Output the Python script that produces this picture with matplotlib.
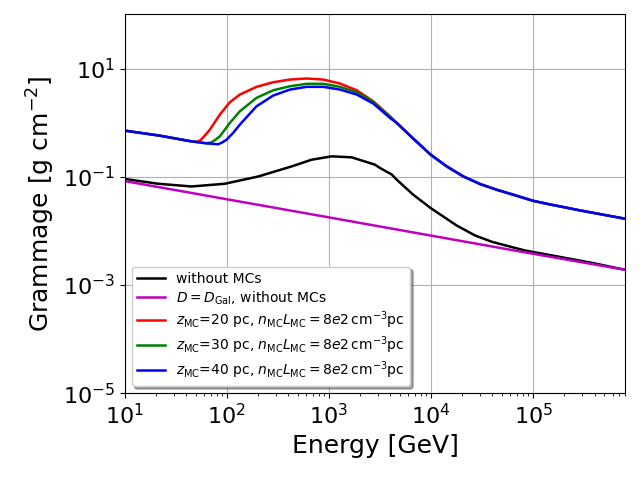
import matplotlib
matplotlib.use("Agg")
import matplotlib.pyplot as plt
from matplotlib.ticker import NullLocator

# Energy [GeV] and grammage [g cm^-2] values
E_gal = [10, 100, 1000, 1e4, 1e5, 8e5]
G_gal = [0.083, 0.0383, 0.0177, 0.00815, 0.00376, 0.00190]

E_nomc = [10, 21.2, 45.1, 95.5, 203, 431, 676, 1062, 1668, 2825, 3162, 4120,
          4613, 6700, 9930, 17870, 27000, 39630, 83500, 175900, 378800, 800000]
G_nomc = [0.091, 0.0741, 0.0660, 0.0741, 0.101, 0.155, 0.206, 0.238, 0.228,
          0.167, 0.145, 0.110, 0.088, 0.0464, 0.0263, 0.0125, 0.0082, 0.00625,
          0.00432, 0.00334, 0.00255, 0.0019]

E_base = [10, 22, 43.4]
G_base = [0.711, 0.574, 0.455]

E_tail = [4613, 6700, 9930, 14260, 20750, 30200, 44030, 64100, 99300,
          136200, 289000, 800000]
G_tail = [0.987, 0.506, 0.255, 0.155, 0.101, 0.0733, 0.0574, 0.0464, 0.0360,
          0.0316, 0.0238, 0.0167]

E_z20 = E_base + [50, 55, 61, 68.1, 85.3, 107, 134, 195, 284, 415, 604, 879,
                  1282, 1870, 2718, 3963] + E_tail
G_z20 = G_base + [0.44, 0.47, 0.58, 0.741, 1.406, 2.38, 3.30, 4.58, 5.57, 6.25,
                  6.53, 6.25, 5.27, 3.96, 2.48, 1.31] + G_tail

E_z30 = E_base + [63.2, 70.8, 77, 85.3, 107, 134, 195, 284, 415, 604, 879,
                  1282, 1870, 2718, 3963] + E_tail
G_z30 = G_base + [0.414, 0.431, 0.48, 0.557, 0.987, 1.62, 2.86, 3.96, 4.70,
                  5.21, 5.21, 4.58, 3.64, 2.41, 1.28] + G_tail

E_z40 = E_base + [63.2, 82.2, 90, 99.4, 115, 134, 195, 284, 415, 604, 879,
                  1282, 1870, 2718, 3963] + E_tail
G_z40 = G_base + [0.414, 0.397, 0.43, 0.484, 0.644, 0.918, 2.00, 3.16, 4.08,
                  4.58, 4.58, 4.08, 3.30, 2.25, 1.22] + G_tail

label_mc = r'$z_{\rm MC}$=%d pc, $n_{\rm MC} L_{\rm MC} = 8e2\,{\rm cm^{-3} pc}$'

fig = plt.figure(figsize=(6.4, 4.8), dpi=100)
ax = fig.add_axes([0.195, 0.181, 0.782, 0.789])

lw = 1.8
ax.plot(E_nomc, G_nomc, color='k', lw=lw, label='without MCs')
ax.plot(E_gal, G_gal, color='m', lw=lw, label=r'$D = D_{\rm Gal}$, without MCs')
ax.plot(E_z20, G_z20, color='r', lw=lw, label=label_mc % 20)
ax.plot(E_z30, G_z30, color='g', lw=lw, label=label_mc % 30)
ax.plot(E_z40, G_z40, color='b', lw=lw, label=label_mc % 40)

ax.set_xscale('log')
ax.set_yscale('log')
ax.set_xlim(10, 8e5)
ax.set_ylim(1e-5, 1e2)
ax.set_yticks([1e-5, 1e-3, 1e-1, 1e1])
ax.yaxis.set_minor_locator(NullLocator())
ax.grid(True, which='major', color='#b0b0b0', lw=0.8)
ax.tick_params(axis='both', which='major', labelsize=16)
ax.set_xlabel('Energy [GeV]', fontsize=18)
ax.set_ylabel(r'Grammage [g cm$^{-2}$]', fontsize=18)

ax.legend(loc='lower left', fontsize=10, shadow=True, framealpha=1,
          labelspacing=0.22)

fig.savefig('out.png', dpi=100)
